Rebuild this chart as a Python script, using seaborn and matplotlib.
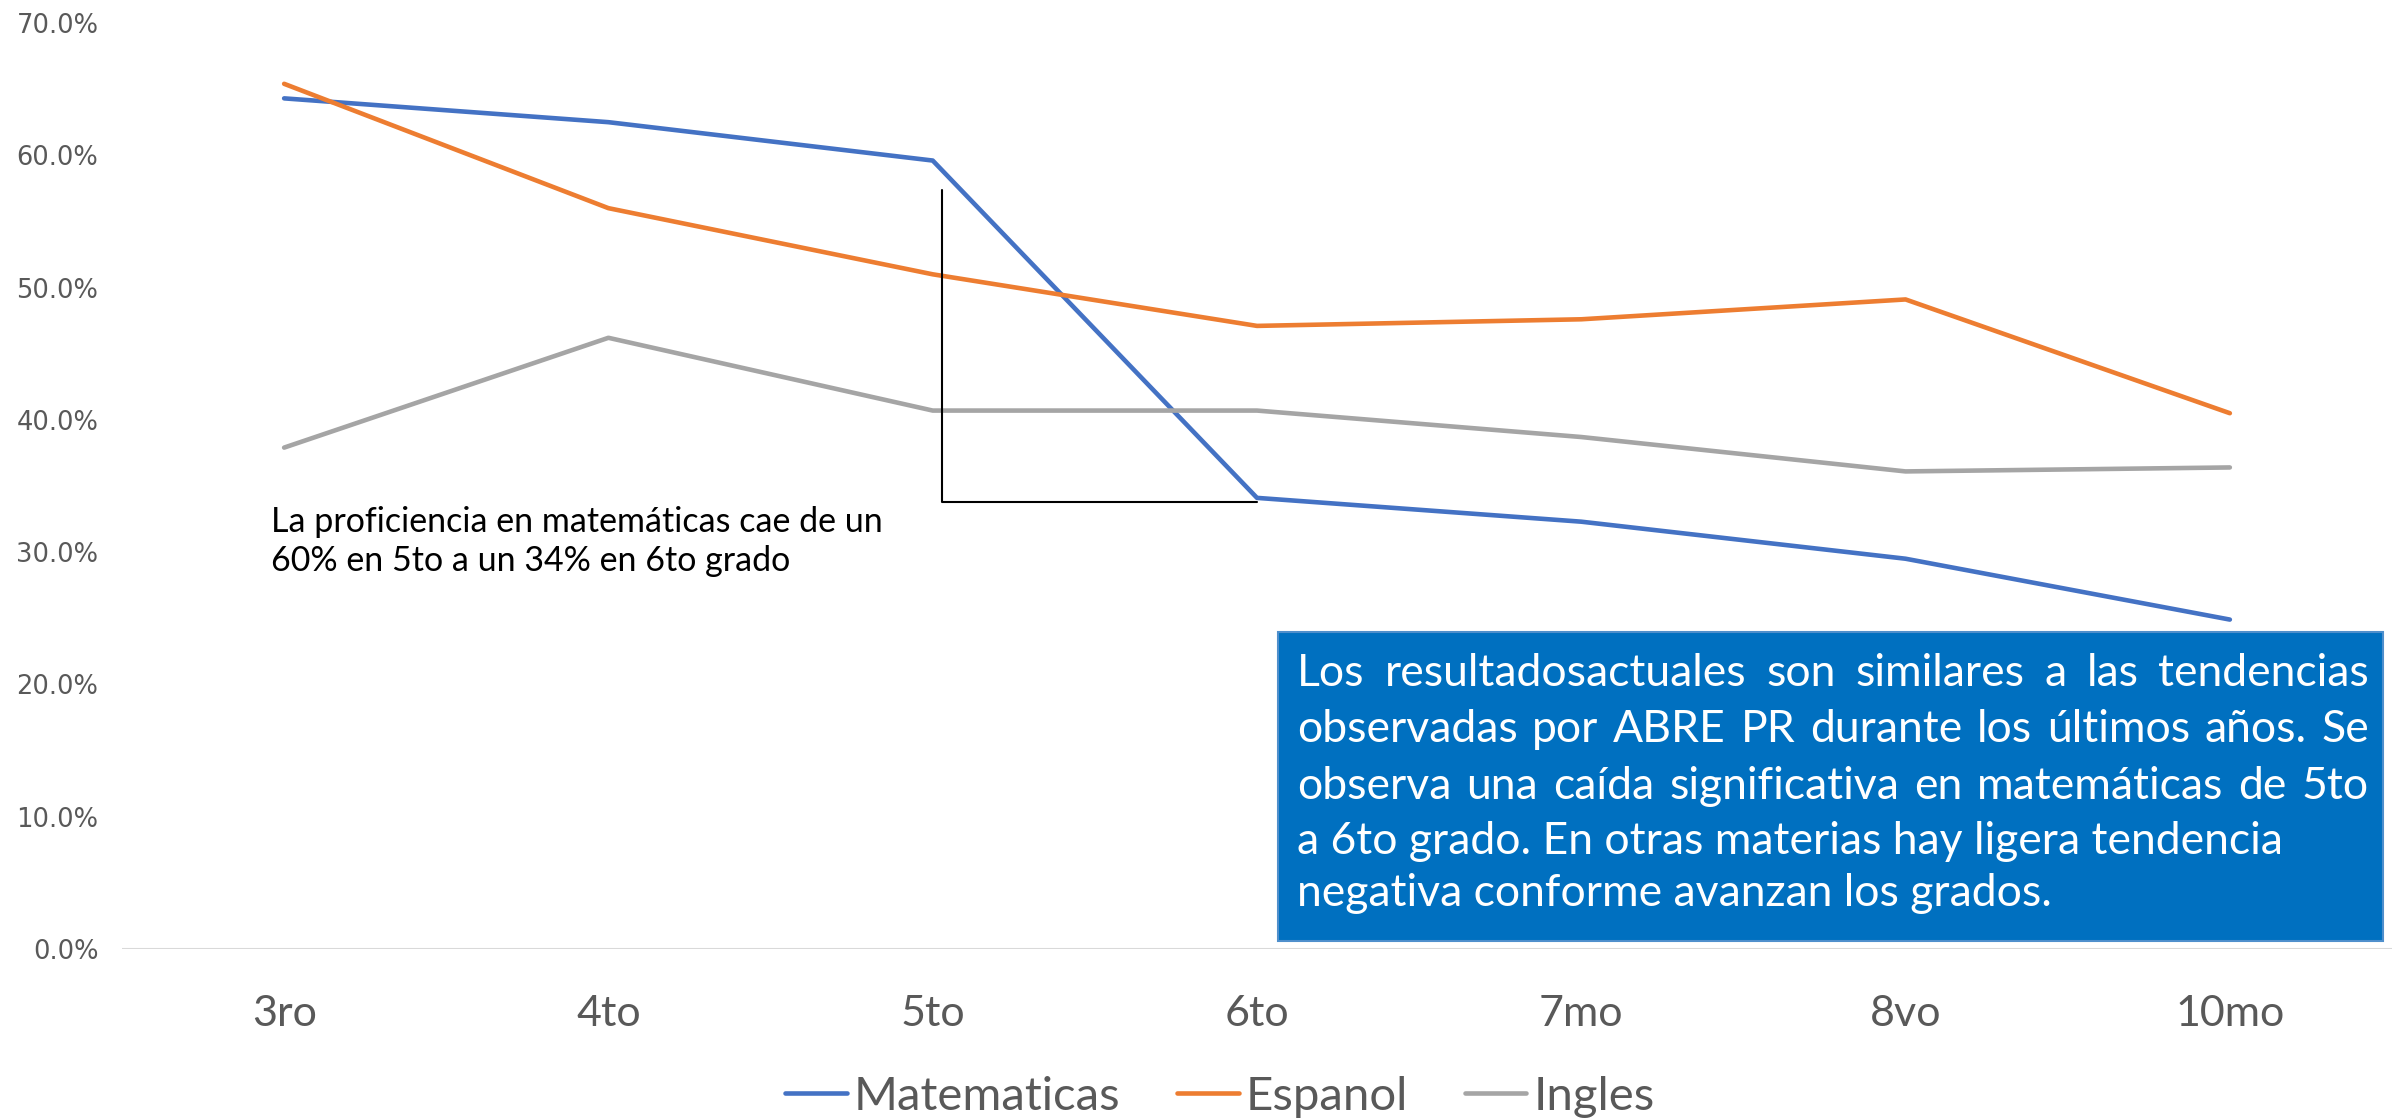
import numpy as np
import pandas as pd
import matplotlib
matplotlib.use('Agg')
import matplotlib.pyplot as plt
import seaborn as sns
from matplotlib.patches import Rectangle

# valores (porcentaje de proficiencia)
grados = ['3ro', '4to', '5to', '6to', '7mo', '8vo', '10mo']
matematicas = [64.3, 62.5, 59.6, 34.1, 32.3, 29.5, 24.9]
espanol = [65.4, 56.0, 51.0, 47.1, 47.6, 49.1, 40.5]
ingles = [37.9, 46.2, 40.7, 40.7, 38.7, 36.1, 36.4]
materias = ['Matematicas', 'Espanol', 'Ingles']
colores = ['#4472C4', '#ED7D31', '#A5A5A5']
yticks = [0, 10, 20, 30, 40, 50, 60, 70]

nota = 'La proficiencia en matemáticas cae de un\n60% en 5to a un 34% en 6to grado'
caja = ['Los resultadosactuales son similares a las tendencias',
        'observadas por ABRE PR durante los últimos años. Se',
        'observa una caída significativa en matemáticas de 5to',
        'a 6to grado. En otras materias hay ligera tendencia',
        'negativa conforme avanzan los grados.']
justificar = [True, True, True, False, False]

df = pd.DataFrame({'grado': grados * 3,
                   'materia': np.repeat(materias, len(grados)),
                   'valor': matematicas + espanol + ingles})

sns.set_style('white')
plt.rcParams['font.family'] = ['Lato', 'DejaVu Sans']

fig = plt.figure(figsize=(23.92, 11.2), dpi=100)
ax = fig.add_axes([0.051, 0.1527, 0.949, 0.8268])
sns.lineplot(data=df, x='grado', y='valor', hue='materia', hue_order=materias,
             palette=colores, linewidth=3.3, sort=False, ax=ax)

ax.set_xlim(-0.5, len(grados) - 0.5)
ax.set_ylim(0, 70)
ax.set_xlabel('')
ax.set_ylabel('')
sns.despine(ax=ax, left=True, bottom=True)
ax.axhline(0, color='#D9D9D9', lw=1.5, zorder=0)

ax.set_yticks(yticks)
ax.set_yticklabels([f'{v:.1f}%' for v in yticks], family='DejaVu Sans',
                   fontsize=18.5, color='#595959')
ax.tick_params(axis='y', length=0, pad=17)
ax.set_xticks(range(len(grados)))
ax.set_xticklabels(grados, fontsize=31, color='#595959')
ax.tick_params(axis='x', length=0, pad=33)

# corchete de la caida 5to -> 6to
top = matematicas[2] - 2.2
bot = matematicas[3] - 0.3
ax.plot([2.03, 2.03, 3.0], [top, bot, bot], color='black', lw=1.5)
ax.text(-0.04, 30.8, nota, fontsize=24.5, va='center', ha='left',
        linespacing=1.3, color='black')

handles, labels = ax.get_legend_handles_labels()
ax.get_legend().remove()
fig.legend(handles, labels, loc='lower center', bbox_to_anchor=(0.51, -0.036),
           ncol=3, frameon=False, fontsize=34, handlelength=1.3,
           handletextpad=0.15, columnspacing=1.2, labelcolor='#595959')

# caja de texto azul
fig.add_artist(Rectangle((0.5343, 0.1598), 0.462, 0.2759, transform=fig.transFigure,
                         facecolor='#0070C0', edgecolor='#4F8FCC', lw=1.5, zorder=5))

renderer = fig.canvas.get_renderer()
W = fig.bbox.width
x0, x1 = 0.5422, 0.9904
ys = [0.399, 0.349, 0.298, 0.249, 0.202]
for linea, y, just in zip(caja, ys, justificar):
    if not just:
        fig.text(x0, y, linea, fontsize=32, color='white', va='center', ha='left', zorder=6)
        continue
    palabras = linea.split(' ')
    textos = [fig.text(0, y, p, fontsize=32, color='white', va='center', ha='left', zorder=6)
              for p in palabras]
    anchos = [t.get_window_extent(renderer).width for t in textos]
    hueco = ((x1 - x0) * W - sum(anchos)) / (len(textos) - 1)
    x = x0 * W
    for t, a in zip(textos, anchos):
        t.set_x(x / W)
        x += a + hueco

fig.savefig('out.png', dpi=100)
